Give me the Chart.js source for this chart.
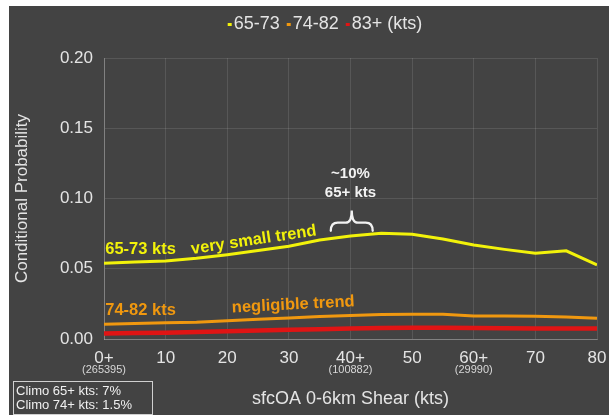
<!DOCTYPE html>
<html><head><meta charset="utf-8">
<script src="https://cdn.jsdelivr.net/npm/chart.js@4"></script>
<style>
html,body{margin:0;padding:0;background:#fff;width:610px;height:415px;overflow:hidden}
#wrap{position:absolute;left:9px;top:6px;width:600px;height:409px;background:#434343}
</style></head><body>
<div id="wrap"><canvas id="c" width="600" height="409"></canvas></div>
<script>
const shear = [0,5,10,15,20,25,30,35,40,45,50,55,60,65,70,75,80];
const p65_73 = [0.054,0.0548,0.0555,0.0574,0.060,0.063,0.066,0.0705,0.0733,0.0752,0.0745,0.0712,0.0669,0.0638,0.061,0.0628,0.0527];
const p74_82 = [0.0105,0.011,0.0115,0.012,0.013,0.014,0.015,0.016,0.0168,0.0174,0.0177,0.0177,0.0164,0.0163,0.0162,0.0157,0.0147];
const p83 = [0.004,0.0042,0.0045,0.005,0.0055,0.006,0.0065,0.007,0.0075,0.0078,0.008,0.008,0.0079,0.0077,0.0075,0.0075,0.0075];
const seriesNames = ['65-73','74-82','83+ (kts)'];
const plusTicks = [0,40,60];
const sampleCounts = ['(265395)','(100882)','(29990)'];
const yTicks = [0,0.05,0.10,0.15,0.20];
const climoLines = ['Climo 65+ kts: 7%','Climo 74+ kts: 1.5%'];

const colors = ['#f2f20a','#f0980f','#e01414'];
const widths = [3,3,4.5];
const FONT = 'Liberation Sans, Arial, sans-serif';
const txt = '#e4e4e4';

const mk = (arr)=>arr.map((v,i)=>({x:shear[i],y:v}));
const datasets = [p83,p74_82,p65_73].map((arr,k)=>{
  const i = 2-k;
  return {label:seriesNames[i],data:mk(arr),borderColor:colors[i],backgroundColor:colors[i],
    borderWidth:widths[i],pointRadius:0,tension:0,fill:false};
});

const annot = {
  id:'annot',
  afterDraw(chart){
    const ctx = chart.ctx, xs = chart.scales.x, ys = chart.scales.y;
    ctx.save();
    // legend
    ctx.font = '18px '+FONT;
    ctx.textBaseline='middle';
    const mw=4, g1=2, g2=7;
    let total=0;
    seriesNames.forEach((n,i)=>{total+=mw+g1+ctx.measureText(n).width+(i<2?g2:0);});
    let lx = 316-total/2, ly=18;
    seriesNames.forEach((n,i)=>{
      ctx.fillStyle=colors[i]; ctx.fillRect(lx,ly-1,mw,3);
      lx+=mw+g1; ctx.fillStyle=txt; ctx.textAlign='left'; ctx.fillText(n,lx,ly);
      lx+=ctx.measureText(n).width+g2;
    });
    // sample counts
    ctx.font='11px '+FONT; ctx.fillStyle='#d8d8d8'; ctx.textAlign='center';
    plusTicks.forEach((t,i)=>ctx.fillText(sampleCounts[i],xs.getPixelForValue(t),364));
    // climo box
    ctx.strokeStyle='#d0d0d0'; ctx.lineWidth=1;
    ctx.strokeRect(4.5,375.5,139,33);
    ctx.font='13px '+FONT; ctx.fillStyle='#f0f0f0'; ctx.textAlign='left';
    ctx.fillText(climoLines[0],7,385);
    ctx.fillText(climoLines[1],7,399);
    // series annotations
    const lab=(s,x,y,col,rot,size,align)=>{
      ctx.save(); ctx.translate(xs.getPixelForValue(x),ys.getPixelForValue(y)); ctx.rotate(rot*Math.PI/180);
      ctx.font='bold '+size+'px '+FONT; ctx.fillStyle=col; ctx.textAlign=align||'center'; ctx.textBaseline='middle';
      ctx.fillText(s,0,0); ctx.restore();
    };
    lab('65-73 kts',0.2,0.0635,colors[0],0,16.5,'left');
    lab('very small trend',24.3,0.0703,colors[0],-8.5,16.5);
    lab('74-82 kts',0.2,0.0205,colors[1],0,16.5,'left');
    lab('negligible trend',30.7,0.0243,colors[1],-3,16.5);
    lab('~10%',40,0.1174,'#f2f2f2',0,15);
    lab('65+ kts',40,0.1037,'#f2f2f2',0,15);
    // brace
    const bx0=xs.getPixelForValue(36.8), bx1=xs.getPixelForValue(43.6), bc=(bx0+bx1)/2;
    const yt=ys.getPixelForValue(0.0915), yb=ys.getPixelForValue(0.0770), ym=(yt+yb)/2+2;
    ctx.strokeStyle='#f2f2f2'; ctx.lineWidth=2.3; ctx.lineCap='round';
    ctx.beginPath();
    ctx.moveTo(bx0,yb);
    ctx.quadraticCurveTo(bx0,ym,bx0+7,ym);
    ctx.lineTo(bc-6,ym);
    ctx.quadraticCurveTo(bc,ym,bc,yt);
    ctx.quadraticCurveTo(bc,ym,bc+6,ym);
    ctx.lineTo(bx1-7,ym);
    ctx.quadraticCurveTo(bx1,ym,bx1,yb);
    ctx.stroke();
    ctx.restore();
  }
};

new Chart(document.getElementById('c'),{
  type:'line',
  data:{datasets},
  options:{
    responsive:false,animation:false,
    layout:{padding:{left:0,right:12,top:52,bottom:0}},
    plugins:{legend:{display:false},tooltip:{enabled:false}},
    scales:{
      x:{type:'linear',min:0,max:80,
        afterFit(s){s.height=76;},
        ticks:{stepSize:10,color:txt,font:{size:17,family:FONT},padding:0,maxRotation:0,
          callback:(v)=>plusTicks.includes(v)?v+'+':String(v)},
        grid:{color:'rgba(255,255,255,0.11)',drawTicks:true,tickLength:9,tickColor:'rgba(0,0,0,0)'},
        border:{color:'rgba(255,255,255,0.25)'},
        title:{display:true,text:'sfcOA 0-6km Shear (kts)',color:txt,font:{size:18,family:FONT},padding:{top:0,bottom:5}}
      },
      y:{min:0,max:0.2,
        afterFit(s){s.width=95;},
        afterBuildTicks(s){s.ticks=yTicks.map(v=>({value:v}));},
        ticks:{color:txt,font:{size:17,family:FONT},padding:11,callback:(v)=>v.toFixed(2)},
        grid:{color:'rgba(255,255,255,0.11)',drawTicks:false},
        border:{color:'rgba(255,255,255,0.25)'},
        title:{display:true,text:'Conditional Probability',color:txt,font:{size:17,family:FONT},padding:{top:3,bottom:0}}
      }
    }
  },
  plugins:[annot]
});
</script>
</body></html>
